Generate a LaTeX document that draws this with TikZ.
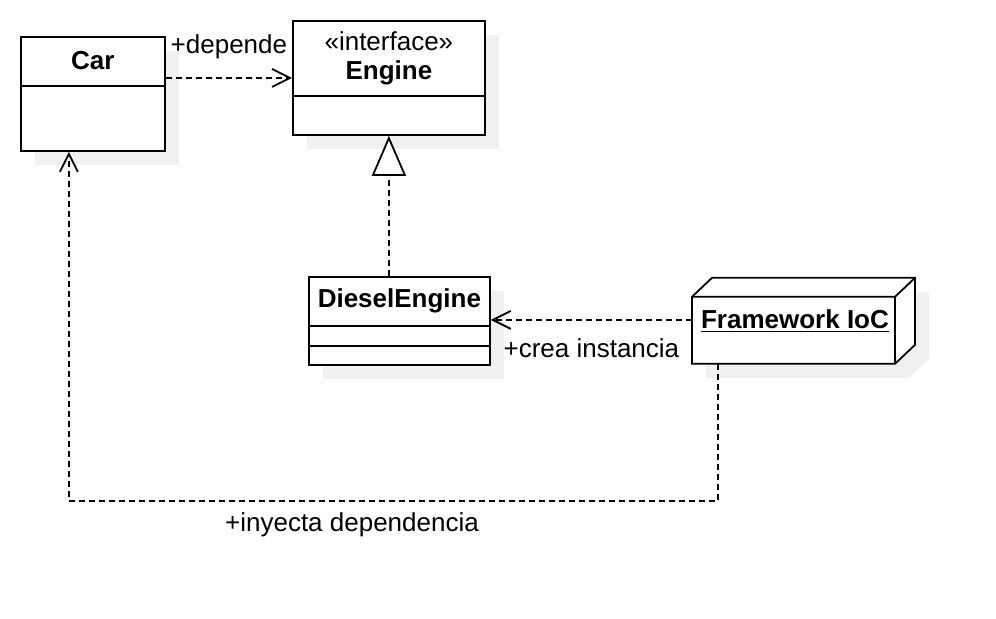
\documentclass[tikz,border=0pt]{standalone}
\usepackage{fontspec}
\setmainfont{Liberation Sans}
\usetikzlibrary{arrows.meta,positioning}
\def\shadowsep{7pt}

\begin{document}
\begin{tikzpicture}[x=0.5pt,y=-0.5pt,font=\fontsize{13}{15}\selectfont,line width=0.9pt]
	\tikzstyle{classbox}=[draw,fill=white,inner sep=0pt,anchor=north west]
	\tikzstyle{shadowbox}=[fill=black!6,draw=none,inner sep=0pt,anchor=north west]
	\tikzstyle{classname}=[font=\fontsize{13}{15}\selectfont\bfseries,inner sep=0pt]
	\tikzstyle{dep}=[dash pattern=on 3pt off 2pt,-{Straight Barb[length=9pt,width=9pt]}]
	\tikzstyle{realize}=[dash pattern=on 3pt off 2pt,-{Triangle[open,length=20pt,width=17pt,fill=white]}]

	\useasboundingbox (0,0) rectangle (996,618);

	% Draw the classes (shadow first)
	\node[shadowbox,minimum width=72pt,minimum height=57pt] at (34,50) {};
	\node[classbox,minimum width=72pt,minimum height=57pt] (car) at (20,36) {};
	\draw ([yshift=-25pt]car.north west) -- ([yshift=-25pt]car.north east);
	\node[classname] (car-name) at ([yshift=-12.5pt]car.north) {Car};

	\node[shadowbox,minimum width=96pt,minimum height=57pt] at (306,34) {};
	\node[classbox,minimum width=96pt,minimum height=57pt] (engine) at (292,20) {};
	\draw ([yshift=-38pt]engine.north west) -- ([yshift=-38pt]engine.north east);
	\node[inner sep=0pt] (engine-stereo) at ([yshift=-10.5pt]engine.north) {«interface»};
	\node[classname] (engine-name) at ([yshift=-26.5pt]engine.north) {Engine};

	\node[shadowbox,minimum width=90.5pt,minimum height=44pt] at (322,290) {};
	\node[classbox,minimum width=90.5pt,minimum height=44pt] (diesel) at (308,276) {};
	\foreach \d in {25,35}
	\draw ([yshift=-\d pt]diesel.north west) -- ([yshift=-\d pt]diesel.north east);
	\node[classname] (diesel-name) at ([yshift=-12.5pt]diesel.north) {DieselEngine};

	% Draw the framework node (3D box)
	\node[inner sep=0pt,minimum width=111.5pt,minimum height=43pt,anchor=north west] (fw) at (692,276) {};
	\fill[black!6] ([shift={(14,14)}]fw.south west) -- ++(0,-67) -- ++(20,-19) -- ++(203,0) -- ++(0,67) -- ++(-20,19) -- cycle;
	\draw[fill=white,line join=miter] (fw.south west) -- ++(0,-67) -- ++(20,-19) -- ++(203,0) -- ++(0,67) -- ++(-20,19) -- cycle;
	\draw (fw.south west) ++(0,-67) -- ++(203,0) -- ++(20,-19);
	\draw (fw.south west) ++(203,0) -- ++(0,-67);
	\node[classname] (fw-name) at (795,321) {\underline{Framework IoC}};

	% Connect the nodes
	\draw[dep] (car.east |- engine.west) -- (engine.west)
		node[midway,yshift=15.5pt] {+depende};
	\draw[realize] (engine.south |- diesel.north) -- (engine.south);
	\draw[dep] (fw.west) -- (fw.west -| diesel.east)
		node[midway,yshift=-14pt] {+crea instancia};
	\draw[dep] ([xshift=13pt]fw.south west) -- ++(0,137) -| ([xshift=-12pt]car.south);
	\node (inject-label) at (352,525) {+inyecta dependencia};
\end{tikzpicture}
\end{document}
